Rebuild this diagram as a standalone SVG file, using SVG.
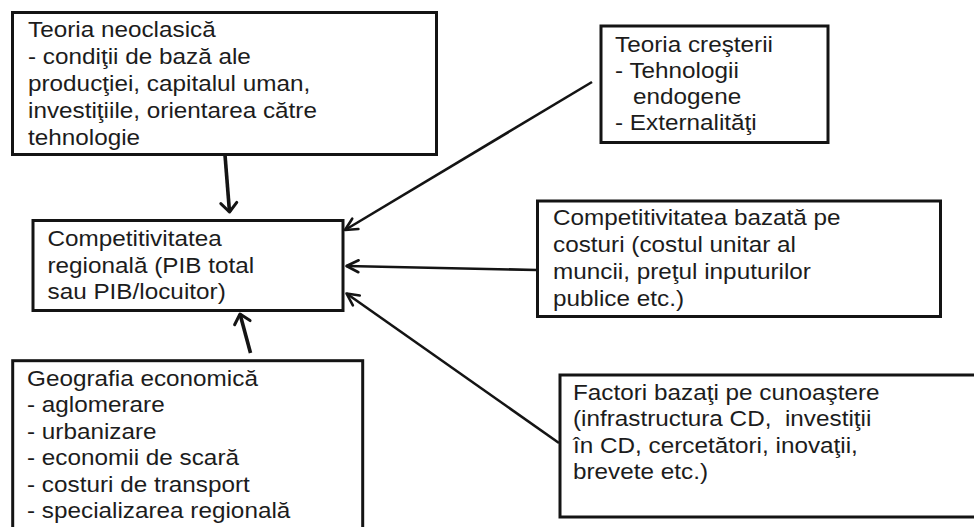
<svg xmlns="http://www.w3.org/2000/svg" width="974" height="527" viewBox="0 0 974 527">
<style>
.box{fill:#fff;stroke:#141414;stroke-width:3}
.t{font-family:"Liberation Sans",Arial,sans-serif;font-size:21.5px;fill:#1c1c1c}
.c{fill:none;stroke:#141414;stroke-width:2.6}
.cw{fill:none;stroke:#141414;stroke-width:3.6}
</style>
<defs>
<marker id="ahn" markerUnits="userSpaceOnUse" viewBox="-16 -10 18 20" markerWidth="18" markerHeight="20" refX="0" refY="0" orient="auto" overflow="visible">
<path d="M-12,-6 L0,0 L-12,6" fill="none" stroke="#141414" stroke-width="2.6" stroke-linejoin="round" stroke-linecap="round"/>
</marker>
<marker id="ahw" markerUnits="userSpaceOnUse" viewBox="-16 -10 18 20" markerWidth="18" markerHeight="20" refX="0" refY="0" orient="auto" overflow="visible">
<path d="M-9,-8 L0,0 L-9,8" fill="none" stroke="#141414" stroke-width="3" stroke-linejoin="round" stroke-linecap="round"/>
</marker>
</defs>
<rect width="974" height="527" fill="#fff"/>
<g id="connectors">
<path class="cw" d="M225,155 L229.5,212" marker-end="url(#ahw)"/>
<path class="cw" d="M250.5,353 L240,314" marker-end="url(#ahw)"/>
<path class="c" d="M592,82 L345,230" marker-end="url(#ahn)"/>
<path class="c" d="M537,270 L346.5,266" marker-end="url(#ahn)"/>
<path class="c" d="M559,443 L346.5,293.5" marker-end="url(#ahn)"/>
</g>
<g id="node-neoclasica">
<rect class="box" x="12.5" y="12.5" width="424" height="142"/>
<text class="t" transform="translate(28,37) scale(1.13,1)"><tspan x="0" y="0">Teoria neoclasică</tspan><tspan x="0" y="27">- condiţii de bază ale</tspan><tspan x="0" y="54">producţiei, capitalul uman,</tspan><tspan x="0" y="81">investiţiile, orientarea către</tspan><tspan x="0" y="108">tehnologie</tspan></text>
</g>
<g id="node-crestere">
<rect class="box" x="601" y="26" width="227" height="116.5"/>
<text class="t" transform="translate(615,52) scale(1.13,1)"><tspan x="0" y="0">Teoria creşterii</tspan><tspan x="0" y="26">- Tehnologii</tspan><tspan x="16" y="52">endogene</tspan><tspan x="0" y="78">- Externalităţi</tspan></text>
</g>
<g id="node-competitivitate">
<rect class="box" x="33" y="220.5" width="310" height="90"/>
<text class="t" transform="translate(47.5,246) scale(1.13,1)"><tspan x="0" y="0">Competitivitatea</tspan><tspan x="0" y="26.7">regională (PIB total</tspan><tspan x="0" y="53.4">sau PIB/locuitor)</tspan></text>
</g>
<g id="node-costuri">
<rect class="box" x="537.5" y="201" width="403" height="115.5"/>
<text class="t" transform="translate(553,225) scale(1.13,1)"><tspan x="0" y="0">Competitivitatea bazată pe</tspan><tspan x="0" y="27">costuri (costul unitar al</tspan><tspan x="0" y="54">muncii, preţul inputurilor</tspan><tspan x="0" y="81">publice etc.)</tspan></text>
</g>
<g id="node-cunoastere">
<rect class="box" x="560" y="375" width="420" height="142"/>
<text class="t" xml:space="preserve" transform="translate(573,400) scale(1.13,1)"><tspan x="0" y="0">Factori bazaţi pe cunoaştere</tspan><tspan x="0" y="26.5">(infrastructura CD,  investiţii</tspan><tspan x="0" y="53">în CD, cercetători, inovaţii,</tspan><tspan x="0" y="79.5">brevete etc.)</tspan></text>
</g>
<g id="node-geografie">
<rect class="box" x="12.7" y="360.7" width="350" height="180"/>
<text class="t" transform="translate(27,386) scale(1.13,1)"><tspan x="0" y="0">Geografia economică</tspan><tspan x="0" y="26.4">- aglomerare</tspan><tspan x="0" y="52.8">- urbanizare</tspan><tspan x="0" y="79.2">- economii de scară</tspan><tspan x="0" y="105.6">- costuri de transport</tspan><tspan x="0" y="132">- specializarea regională</tspan></text>
</g>
</svg>
